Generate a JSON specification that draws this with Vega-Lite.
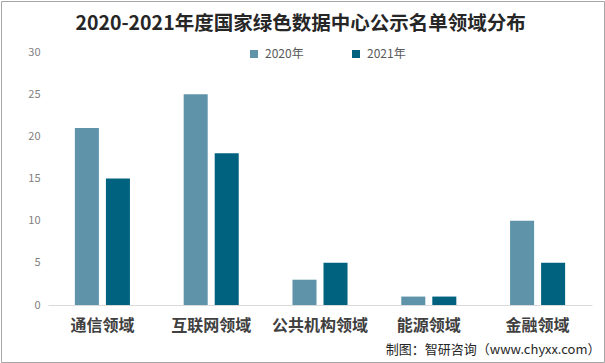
{
  "$schema": "https://vega.github.io/schema/vega-lite/v6.json",
  "width": 603,
  "height": 361,
  "padding": 1,
  "autosize": "none",
  "background": "white",
  "config": {
    "view": {"stroke": "#a6a6a6", "strokeWidth": 1},
    "font": "Noto Sans CJK SC"
  },
  "title": {
    "text": "2020-2021年度国家绿色数据中心公示名单领域分布",
    "anchor": "middle",
    "frame": "group",
    "fontSize": 19.5,
    "fontWeight": "bold",
    "color": "#262626",
    "font": "Noto Sans CJK SC",
    "baseline": "middle",
    "offset": -20,
    "dy": 22,
    "dx": -2
  },
  "data": {
    "values": [
      {"domain": "通信领域", "year": "2020年", "value": 21},
      {"domain": "通信领域", "year": "2021年", "value": 15},
      {"domain": "互联网领域", "year": "2020年", "value": 25},
      {"domain": "互联网领域", "year": "2021年", "value": 18},
      {"domain": "公共机构领域", "year": "2020年", "value": 3},
      {"domain": "公共机构领域", "year": "2021年", "value": 5},
      {"domain": "能源领域", "year": "2020年", "value": 1},
      {"domain": "能源领域", "year": "2021年", "value": 1},
      {"domain": "金融领域", "year": "2020年", "value": 10},
      {"domain": "金融领域", "year": "2021年", "value": 5}
    ]
  },
  "mark": {"type": "bar"},
  "encoding": {
    "x": {
      "field": "domain",
      "type": "nominal",
      "sort": null,
      "scale": {"range": [47, 591], "paddingInner": 0.494, "paddingOuter": 0.247},
      "axis": {
        "title": "制图：智研咨询（www.chyxx.com）",
        "titleFontSize": 13,
        "titleFontWeight": "normal",
        "titleColor": "#262626",
        "titleX": 599,
        "titleY": 44,
        "titleAlign": "right",
        "titleBaseline": "middle",
        "offset": -57,
        "labelAngle": 0,
        "labelFontSize": 16,
        "labelFontWeight": "bold",
        "labelColor": "#404040",
        "labelPadding": 12,
        "ticks": false,
        "domainColor": "#d9d9d9",
        "domainWidth": 1
      }
    },
    "xOffset": {
      "field": "year",
      "type": "nominal",
      "scale": {"paddingInner": 0.226, "paddingOuter": 0}
    },
    "y": {
      "field": "value",
      "type": "quantitative",
      "scale": {"domain": [0, 30], "range": [304, 51], "nice": false},
      "axis": {
        "title": null,
        "values": [0, 5, 10, 15, 20, 25, 30],
        "offset": -42,
        "labelPadding": 3,
        "ticks": false,
        "domain": false,
        "grid": false,
        "labelFontSize": 11,
        "labelColor": "#7f7f7f"
      }
    },
    "color": {
      "field": "year",
      "type": "nominal",
      "scale": {"domain": ["2020年", "2021年"], "range": ["#5f93aa", "#00627f"]},
      "legend": {
        "title": null,
        "orient": "none",
        "direction": "horizontal",
        "legendX": 247,
        "legendY": 47,
        "symbolType": "square",
        "symbolSize": 64,
        "labelFontSize": 12,
        "labelColor": "#595959",
        "columnPadding": 46,
        "labelOffset": 5
      }
    }
  }
}
